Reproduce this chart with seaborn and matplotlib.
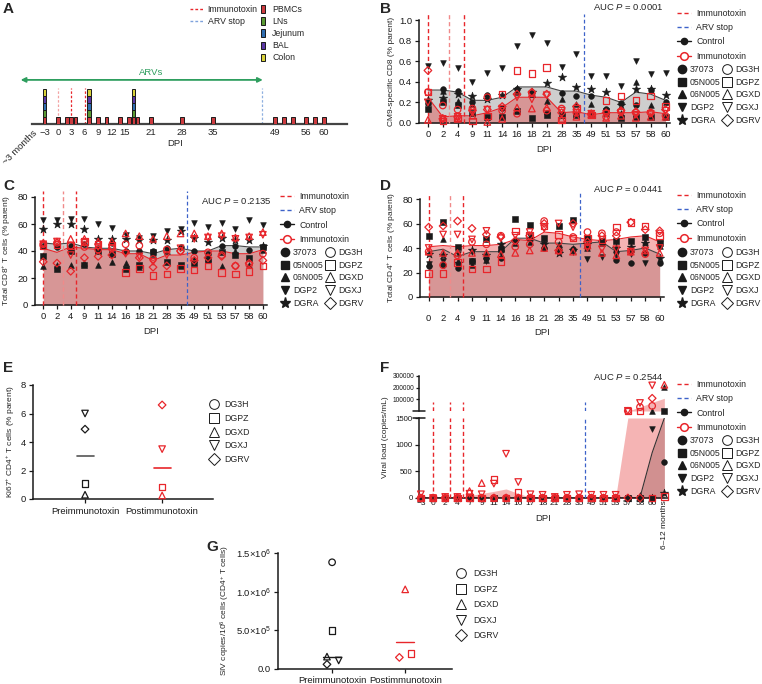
import numpy as np
import matplotlib
matplotlib.use("Agg")
import matplotlib.pyplot as plt
import seaborn as sns
from matplotlib.lines import Line2D
from matplotlib.patches import Patch

sns.set_theme(style="ticks")
plt.rcParams['font.family'] = ['Liberation Sans', 'DejaVu Sans']
plt.rcParams['mathtext.fontset'] = 'custom'
plt.rcParams['mathtext.rm'] = 'Liberation Sans'
plt.rcParams['mathtext.it'] = 'Liberation Sans:italic'
plt.rcParams['mathtext.bf'] = 'Liberation Sans:bold'

# ------------------------------------------------------------------ data
ctrl_ids = ["37073", "05N005", "06N005", "DGP2", "DGRA"]
imm_ids = ["DG3H", "DGPZ", "DGXD", "DGXJ", "DGRV"]
ctrl_markers = ["o", "s", "^", "v", "*"]
imm_markers = ["o", "s", "^", "v", "D"]

# Panel A (sampling schedule)
a_pbmc_days = [-3, 0, 2, 3, 4, 7, 9, 11, 14, 16, 17, 18, 21, 28, 35, 49, 51, 53, 56, 58, 60]
a_tissue_days = [-3, 7, 17]
a_tissues = ["PBMCs", "LNs", "Jejunum", "BAL", "Colon"]
a_tick_days = [-3, 0, 3, 6, 9, 12, 15, 21, 28, 35, 49, 56, 60]
a_immunotoxin_days = [0, 3, 6]
a_arv_stop_day = 46

# time points for B-D
dpi_tp = ["0", "2", "4", "9", "11", "14", "16", "18", "21", "28", "35", "49", "51", "53", "57", "58", "60"]
tp_immunotoxin = [0, 1.45, 2.4]
tp_arv_stop = 10.5

# Panel B: CM9-specific CD8
b_ctrl = {
    "37073": [0.19, 0.33, 0.31, 0.20, 0.27, 0.15, 0.33, 0.30, 0.10, 0.29, 0.26, 0.26, 0.14, 0.19, 0.17, 0.32, 0.20],
    "05N005": [0.14, 0.20, 0.17, 0.10, 0.06, 0.06, 0.12, 0.05, 0.08, 0.08, 0.08, 0.08, 0.12, 0.05, 0.06, 0.06, 0.06],
    "06N005": [0.20, 0.31, 0.21, 0.18, 0.25, 0.08, 0.30, 0.28, 0.21, 0.23, 0.18, 0.18, 0.10, 0.10, 0.40, 0.17, 0.20],
    "DGP2": [0.55, 0.58, 0.53, 0.40, 0.49, 0.53, 0.75, 0.85, 0.78, 0.54, 0.67, 0.46, 0.46, 0.36, 0.60, 0.48, 0.49],
    "DGRA": [0.22, 0.24, 0.28, 0.26, 0.23, 0.27, 0.33, 0.30, 0.39, 0.45, 0.35, 0.33, 0.30, 0.17, 0.33, 0.33, 0.27],
}
b_imm = {
    "DG3H": [0.30, 0.17, 0.13, 0.14, 0.25, 0.12, 0.09, 0.29, 0.12, 0.14, 0.10, 0.08, 0.06, 0.11, 0.10, 0.10, 0.07],
    "DGPZ": [0.30, 0.02, 0.05, 0.02, 0.07, 0.28, 0.51, 0.48, 0.54, 0.03, 0.14, 0.08, 0.22, 0.26, 0.22, 0.26, 0.16],
    "DGXD": [0.03, 0.05, 0.04, 0.07, 0.01, 0.04, 0.15, 0.14, 0.15, 0.04, 0.06, 0.08, 0.05, 0.07, 0.05, 0.06, 0.06],
    "DGXJ": [0.20, 0.04, 0.06, 0.10, 0.13, 0.14, 0.25, 0.23, 0.27, 0.12, 0.10, 0.09, 0.09, 0.10, 0.08, 0.09, 0.12],
    "DGRV": [0.51, 0.04, 0.06, 0.12, 0.13, 0.16, 0.28, 0.30, 0.28, 0.10, 0.16, 0.09, 0.10, 0.12, 0.11, 0.10, 0.13],
}
b_mean_ctrl = [0.32, 0.32, 0.30, 0.22, 0.22, 0.25, 0.35, 0.35, 0.35, 0.31, 0.31, 0.27, 0.25, 0.20, 0.30, 0.28, 0.22]
b_mean_imm = [0.25, 0.06, 0.07, 0.07, 0.10, 0.15, 0.25, 0.25, 0.25, 0.10, 0.11, 0.08, 0.10, 0.10, 0.10, 0.11, 0.09]

# Panel C: total CD8+
c_ctrl = {
    "37073": [44, 43, 44, 45, 42, 46, 40, 40, 40, 42, 43, 40, 38, 44, 44, 41, 43],
    "05N005": [36, 27, 40, 30, 40, 38, 27, 30, 39, 32, 30, 31, 33, 39, 37, 35, 43],
    "06N005": [29, 30, 30, 31, 30, 32, 31, 28, 38, 40, 29, 34, 35, 29, 40, 30, 41],
    "DGP2": [63, 63, 64, 64, 60, 57, 52, 50, 51, 55, 56, 61, 58, 61, 56, 63, 59],
    "DGRA": [56, 60, 60, 56, 49, 49, 49, 48, 48, 48, 55, 50, 47, 50, 48, 48, 44],
}
c_imm = {
    "DG3H": [45, 46, 44, 43, 41, 42, 45, 44, 34, 41, 40, 35, 39, 37, 29, 30, 38],
    "DGPZ": [44, 45, 44, 47, 45, 44, 24, 27, 22, 23, 27, 26, 29, 24, 23, 25, 29],
    "DGXD": [46, 47, 49, 49, 47, 47, 53, 51, 49, 51, 53, 53, 51, 53, 50, 51, 54],
    "DGXJ": [45, 47, 37, 46, 43, 42, 38, 36, 32, 37, 42, 49, 50, 51, 49, 50, 52],
    "DGRV": [32, 31, 25, 35, 36, 37, 39, 35, 28, 29, 40, 33, 35, 36, 29, 31, 33],
}
c_mean_ctrl = [46, 45, 46, 43, 42, 42, 40, 40, 38, 41, 42, 40, 40, 44, 44, 43, 43]
c_mean_imm = [42, 39, 43, 42, 41, 41, 38, 38, 33, 37, 37, 39, 40, 40, 38, 38, 41]

# Panel D: total CD4+
d_ctrl = {
    "37073": [25, 26, 24, 29, 32, 32, 46, 47, 40, 38, 39, 41, 45, 30, 28, 36, 28],
    "05N005": [50, 61, 41, 29, 47, 39, 64, 59, 48, 58, 63, 48, 46, 46, 46, 49, 44],
    "06N005": [28, 47, 29, 26, 30, 40, 44, 45, 42, 43, 40, 40, 44, 39, 39, 45, 42],
    "DGP2": [27, 29, 35, 37, 29, 36, 45, 50, 43, 38, 37, 31, 33, 34, 35, 28, 44],
    "DGRA": [35, 34, 28, 38, 34, 43, 46, 48, 43, 36, 38, 43, 45, 40, 41, 44, 32],
}
d_imm = {
    "DG3H": [37, 26, 34, 45, 43, 50, 41, 43, 62, 45, 49, 53, 52, 53, 37, 35, 52],
    "DGPZ": [19, 19, 28, 23, 23, 29, 54, 50, 58, 51, 48, 48, 47, 57, 61, 58, 50],
    "DGXD": [37, 36, 36, 36, 36, 35, 36, 38, 40, 38, 37, 42, 36, 34, 37, 38, 36],
    "DGXJ": [40, 51, 51, 47, 54, 48, 50, 53, 56, 60, 57, 40, 39, 39, 37, 38, 40],
    "DGRV": [57, 58, 62, 56, 51, 49, 46, 50, 60, 38, 60, 45, 50, 50, 61, 55, 54],
}
d_mean_ctrl = [37, 39, 33, 37, 37, 37, 48, 48, 44, 44, 43, 44, 45, 37, 38, 40, 35]
d_mean_imm = [41, 42, 41, 42, 42, 43, 47, 46, 53, 52, 49, 47, 46, 47, 49, 50, 45]

# Panel E: Ki67+ CD4+
e_groups = ["Preimmunotoxin", "Postimmunotoxin"]
e_pre = {"DG3H": np.nan, "DGPZ": 1.1, "DGXD": 0.3, "DGXJ": 6.0, "DGRV": 4.9}
e_post = {"DG3H": np.nan, "DGPZ": 0.85, "DGXD": 0.25, "DGXJ": 3.5, "DGRV": 6.6}
e_line = [3.05, 2.18]

# Panel F: viral load
f_tp = ["\u22123", "0", "2", "4", "7", "9", "11", "14", "16", "17", "18", "21", "28", "35",
        "49", "51", "53", "57", "58", "60", "6\u201312 months"]
f_immunotoxin = [1, 2.4, 3.5]
f_arv_stop = 13.5
nan = np.nan
f_ctrl = {
    "37073": [0]*20 + [680],
    "05N005": [0]*20 + [2500],
    "06N005": [0]*18 + [60, 2500, 210000],
    "DGP2": [0]*19 + [1300, nan],
    "DGRA": [0]*20 + [100],
}
f_imm = {
    "DG3H": [0]*17 + [3000, 35000, 45000, nan],
    "DGPZ": [0, 0, 0, 0, 10, 0, 350, 0, 110, 0, 0, 0, 0, 0, 0, 0, 0, 3000, 3000, 0, 30],
    "DGXD": [0, 0, 0, 0, 130, 280, 0, 0, 0, 0, 0, 0, 0, 0, 0, 0, 0, nan, nan, nan, 225000],
    "DGXJ": [70, 0, 20, 20, 80, 70, 270, 830, 300, 70, 60, 20, 60, 70, 60, 60, 60, 3000, 70000, 220000, nan],
    "DGRV": [0]*19 + [110000, nan],
}
f_mean_ctrl = [0]*18 + [10, 850, 1650]
f_mean_imm = [15, 0, 5, 5, 45, 85, 125, 170, 85, 15, 12, 5, 12, 15, 12, 12, 12, 1600, 35000, 75000, 110000]

# Panel G: SIV DNA
g_groups = ["Preimmunotoxin", "Postimmunotoxin"]
g_pre = {"DG3H": 1.38e6, "DGPZ": 5.0e5, "DGXD": 1.6e5, "DGXJ": 1.1e5, "DGRV": 6.0e4}
g_post = {"DG3H": nan, "DGPZ": 2.0e5, "DGXD": 1.03e6, "DGXJ": nan, "DGRV": 1.5e5}
g_line = [1.55e5, 3.45e5]

# ------------------------------------------------------------------ style
RED = "#e8262b"
BLUE = "#3d62c9"
GREEN = "#2e9e5e"
TISSUE_COL = ["#cc3b3f", "#5a9a33", "#2f6db0", "#5a38a5", "#d9d23a"]
GREY_FILL = "#8c8c8c"
RED_FILL = "#e63c3c"
FS = 6.8      # tick labels / axis titles
LFS = 6.3     # legends
YFS = 6.0     # y-axis titles

W, H = 762, 684
fig = plt.figure(figsize=(W / 100, H / 100), dpi=100)


def axpx(l, t, r, b):
    return fig.add_axes([l / W, 1 - b / H, (r - l) / W, (b - t) / H])


def style_ax(ax):
    for s in ["top", "right"]:
        ax.spines[s].set_visible(False)
    for s in ["left", "bottom"]:
        ax.spines[s].set_linewidth(1.1)
        ax.spines[s].set_color("k")
    ax.tick_params(labelsize=FS, length=3, width=0.9, colors="k", pad=2)
    ax.set_facecolor("none")


def scatter(ax, x, y, m, filled, color, clip=False):
    x = np.asarray(x, float)
    y = np.asarray(y, float)
    if filled:
        s = 40 if m == "*" else 17
        sns.scatterplot(x=x, y=y, marker=m, s=s, color=color, edgecolor=color,
                        linewidth=0.4, ax=ax, zorder=4, clip_on=clip, legend=False)
    else:
        s = 15 if m == "D" else 22
        sns.scatterplot(x=x, y=y, marker=m, s=s, color=color, facecolor="none",
                        edgecolor=color, linewidth=0.9, ax=ax, zorder=5, clip_on=clip, legend=False)


def legends(x, y, y2):
    h1 = [Line2D([], [], color=RED, ls=(0, (3, 2)), lw=1),
          Line2D([], [], color=BLUE, ls=(0, (3, 2)), lw=1),
          Line2D([], [], color="k", marker="o", ms=4.5, lw=1),
          Line2D([], [], color=RED, marker="o", ms=5.5, mfc="white", mec=RED, mew=1.1, lw=1)]
    fig.legend(h1, ["Immunotoxin", "ARV stop", "Control", "Immunotoxin"],
               loc="upper left", bbox_to_anchor=(x / W, 1 - y / H), frameon=False,
               fontsize=LFS, handlelength=1.6, handletextpad=0.6, labelspacing=0.6,
               borderpad=0, borderaxespad=0)
    h2 = [Line2D([], [], ls="", marker=m, color="k", ms=(8 if m == "*" else 6)) for m in ctrl_markers]
    h2 += [Line2D([], [], ls="", marker=m, mfc="none", mec="k", mew=0.7, ms=(6 if m == "D" else 7))
           for m in imm_markers]
    fig.legend(h2, ctrl_ids + imm_ids, ncol=2, loc="upper left",
               bbox_to_anchor=((x + 1) / W, 1 - y2 / H), frameon=False,
               fontsize=LFS, handlelength=0.9, handletextpad=0.45, labelspacing=0.42,
               columnspacing=0.3, borderpad=0, borderaxespad=0)


def timecourse(ax, dc, di, mc, mi, ylim, yticks, ylabel, yfmt):
    x = np.arange(len(dpi_tp))
    ax.fill_between(x, 0, mc, color=GREY_FILL, alpha=0.42, lw=0, zorder=1)
    ax.fill_between(x, 0, mi, color=RED_FILL, alpha=0.38, lw=0, zorder=1)
    sns.lineplot(x=x, y=mc, color="#444444", lw=0.8, ax=ax, zorder=2)
    sns.lineplot(x=x, y=mi, color=RED, lw=0.8, ax=ax, zorder=2)
    for i, v in enumerate(tp_immunotoxin):
        ax.axvline(v, ymin=0, ymax=1.06, color=("#f08a8a" if i == 1 else RED), ls=(0, (3, 2)),
                   lw=1, clip_on=False, zorder=3)
    ax.axvline(tp_arv_stop, ymin=0, ymax=1.06, color=BLUE, ls=(0, (3, 2)), lw=0.9, clip_on=False, zorder=3)
    for name, m in zip(ctrl_ids, ctrl_markers):
        scatter(ax, x, dc[name], m, True, "k")
    for name, m in zip(imm_ids, imm_markers):
        scatter(ax, x, di[name], m, False, RED)
    ax.set_xlim(-0.6, len(dpi_tp) - 0.7)
    ax.set_ylim(*ylim)
    ax.set_yticks(yticks)
    ax.set_yticklabels([yfmt.format(t) for t in yticks])
    ax.set_xticks(x)
    ax.set_xticklabels(dpi_tp)
    style_ax(ax)
    ax.set_xlabel("DPI", fontsize=FS, labelpad=4)
    ax.set_ylabel(ylabel, fontsize=YFS, labelpad=3)


# ------------------------------------------------------------------ A
axA = axpx(18, 5, 347, 124)
for d in a_pbmc_days:
    if d in a_tissue_days:
        for k, col in enumerate(TISSUE_COL):
            axA.bar(d, 1, bottom=k, width=0.8, color=col, edgecolor="k", lw=0.7, zorder=3)
    else:
        axA.bar(d, 1, width=0.8, color=TISSUE_COL[0], edgecolor="k", lw=0.7, zorder=3)
for i, d in enumerate(a_immunotoxin_days):
    axA.plot([d, d], [0, 5.1], color=("#f3a3a3" if i == 0 else RED), ls=(0, (2, 1.5)), lw=0.9, zorder=2)
axA.plot([a_arv_stop_day] * 2, [0, 5.1], color="#8fb0e0", ls=(0, (2, 1.5)), lw=0.9, zorder=2)
axA.annotate("", xy=(-8.4, 6.3), xytext=(46.2, 6.3),
             arrowprops=dict(arrowstyle="<|-|>", color=GREEN, lw=1.3, mutation_scale=7, shrinkA=0, shrinkB=0))
axA.text(21, 7.3, "ARVs", color=GREEN, fontsize=FS, ha="center", va="center")
axA.set_xlim(-9.0, 65.2)
axA.set_ylim(0, 17)
for s in ["top", "right", "left"]:
    axA.spines[s].set_visible(False)
axA.spines["bottom"].set_bounds(-5.9, 65.2)
axA.spines["bottom"].set_color("#444444")
axA.spines["bottom"].set_linewidth(1.6)
axA.set_yticks([])
axA.set_facecolor("none")
axA.set_xticks([-5.6] + a_tick_days)
axA.set_xticklabels(["~3 months"] + [str(d).replace("-", "\u2212") for d in a_tick_days])
axA.tick_params(axis="x", length=0, labelsize=FS, pad=3)
lab0 = axA.get_xticklabels()[0]
lab0.set_rotation(45)
lab0.set_ha("right")
lab0.set_va("top")
lab0.set_rotation_mode("anchor")
axA.set_xlabel("DPI", fontsize=FS)
axA.xaxis.set_label_coords((175 - 18) / (347 - 18), -0.13)
hA1 = [Line2D([], [], color=RED, ls=(0, (2, 1.5)), lw=1), Line2D([], [], color="#7fa3dc", ls=(0, (2, 1.5)), lw=1)]
fig.legend(hA1, ["Immunotoxin", "ARV stop"], loc="upper left", bbox_to_anchor=(190 / W, 1 - 5 / H),
           frameon=False, fontsize=LFS, handlelength=1.6, handletextpad=0.4, labelspacing=0.35,
           borderpad=0, borderaxespad=0)
hA2 = [Patch(facecolor=c, edgecolor="k", lw=0.7) for c in TISSUE_COL]
fig.legend(hA2, a_tissues, loc="upper left", bbox_to_anchor=(261 / W, 1 - 5 / H),
           frameon=False, fontsize=LFS, handlelength=0.5, handleheight=0.9, handletextpad=0.8,
           labelspacing=0.35, borderpad=0, borderaxespad=0)

# ------------------------------------------------------------------ B
axB = axpx(419, 20, 670, 123)
timecourse(axB, b_ctrl, b_imm, b_mean_ctrl, b_mean_imm, (0, 1.0), [0, 0.2, 0.4, 0.6, 0.8, 1.0],
           "CM9-specific CD8 (% parent)", "{:.1f}")
legends(677, 9, 65)
fig.text(593 / W, 1 - 7 / H, "AUC $P$ = 0.0001", fontsize=FS, va="center", ha="left")

# ------------------------------------------------------------------ C
axC = axpx(35, 197, 267, 305)
timecourse(axC, c_ctrl, c_imm, c_mean_ctrl, c_mean_imm, (0, 80), [0, 20, 40, 60, 80],
           "Total CD8$^{+}$ T cells (% parent)", "{:d}")
legends(280, 192, 248)
fig.text(201 / W, 1 - 201 / H, "AUC $P$ = 0.2135", fontsize=FS, va="center", ha="left")

# ------------------------------------------------------------------ D
axD = axpx(420, 199, 664, 297)
timecourse(axD, d_ctrl, d_imm, d_mean_ctrl, d_mean_imm, (0, 80), [0, 20, 40, 60, 80],
           "Total CD4$^{+}$ T cells (% parent)", "{:d}")
axD.tick_params(axis="x", pad=9)
legends(677, 191, 248)
fig.text(593 / W, 1 - 188 / H, "AUC $P$ = 0.0441", fontsize=FS, va="center", ha="left")

# ------------------------------------------------------------------ E
axE = axpx(33, 385, 213, 499)
for gi, (grp, col) in enumerate(zip([e_pre, e_post], ["k", RED])):
    for name, m in zip(imm_ids, imm_markers):
        scatter(axE, [gi], [grp[name]], m, False, col)
    axE.plot([gi - 0.11, gi + 0.11], [e_line[gi]] * 2, color=("#555555" if gi == 0 else RED), lw=1.2, zorder=3)
axE.set_xlim(-0.675, 1.66)
axE.set_ylim(0, 8)
axE.set_yticks([0, 2, 4, 6, 8])
axE.set_xticks([0, 1])
axE.set_xticklabels(e_groups)
style_ax(axE)
axE.tick_params(axis="x", pad=3)
axE.set_ylabel("Ki67$^{+}$ CD4$^{+}$ T cells (% parent)", fontsize=YFS, labelpad=3)
hE = [Line2D([], [], ls="", marker=m, mfc="none", mec="k", mew=0.7, ms=(6 if m == "D" else 7))
      for m in imm_markers]
fig.legend(hE, imm_ids, loc="upper left", bbox_to_anchor=(210 / W, 1 - 400 / H), frameon=False,
           fontsize=LFS, handlelength=0.9, handletextpad=0.7, labelspacing=0.55, borderpad=0, borderaxespad=0)

# ------------------------------------------------------------------ F
axFb = axpx(419, 418, 668, 498)
axFt = axpx(419, 376, 668, 411)
xf = np.arange(len(f_tp))
mci = np.asarray(f_mean_imm, float)
mcc = np.asarray(f_mean_ctrl, float)
axFb.fill_between(xf, 0, np.minimum(mcc, 1500), color=GREY_FILL, alpha=0.5, lw=0, zorder=1)
axFb.fill_between(xf, 0, np.minimum(mci, 1500), color=RED_FILL, alpha=0.38, lw=0, zorder=1)
axFt.fill_between(xf, 1500, np.maximum(mci, 1500), color=RED_FILL, alpha=0.38, lw=0, zorder=1)
sns.lineplot(x=xf, y=np.minimum(mcc, 1500), color="#333333", lw=0.8, ax=axFb, zorder=2)
for v in f_immunotoxin:
    axFb.axvline(v, color=RED, ls=(0, (3, 2)), lw=1, zorder=3)
    axFt.axvline(v, ymax=0.25, color=RED, ls=(0, (3, 2)), lw=1, zorder=3)
axFb.axvline(f_arv_stop, color=BLUE, ls=(0, (3, 2)), lw=0.9, zorder=3)
axFt.axvline(f_arv_stop, ymax=0.25, color=BLUE, ls=(0, (3, 2)), lw=0.9, zorder=3)
for ids, mk, dd, filled, col in [(ctrl_ids, ctrl_markers, f_ctrl, True, "k"), (imm_ids, imm_markers, f_imm, False, RED)]:
    for name, m in zip(ids, mk):
        v = np.asarray(dd[name], float)
        lo = np.where(v <= 1500, v, np.nan)
        hi = np.where(v > 1500, v, np.nan)
        scatter(axFb, xf, lo, m, filled, col)
        scatter(axFt, xf, hi, m, filled, col)
for ax in (axFb, axFt):
    ax.set_xlim(-0.15, len(f_tp) - 0.7)
axFb.set_ylim(0, 1500)
axFt.set_ylim(1500, 300000)
axFb.set_yticks([0, 500, 1000, 1500])
axFt.set_yticks([100000, 200000, 300000])
axFt.set_yticklabels(["100000", "200000", "300000"])
axFb.set_xticks(xf)
axFb.set_xticklabels(f_tp)
style_ax(axFb)
style_ax(axFt)
axFt.spines["bottom"].set_visible(False)
axFt.set_xticks([])
axFt.tick_params(axis="y", labelsize=4.8, length=2.5, pad=1)
axFb.tick_params(axis="y", labelsize=5.6, pad=1.5)
axFb.tick_params(axis="x", pad=1.5, length=0, labelsize=6)
labF = axFb.get_xticklabels()[-1]
labF.set_rotation(90)
labF.set_va("top")
axFb.plot([-0.025, 0.025], [1, 1], transform=axFb.transAxes, color="k", lw=1.1, clip_on=False)
axFt.plot([-0.025, 0.025], [0, 0], transform=axFt.transAxes, color="k", lw=1.1, clip_on=False)
axFb.set_xlabel("DPI", fontsize=FS)
axFb.xaxis.set_label_coords(0.5, -0.2)
fig.text(386 / W, 1 - 437 / H, "Viral load (copies/mL)", fontsize=YFS, rotation=90, va="center", ha="center")
legends(677, 380, 436)
fig.text(593 / W, 1 - 377 / H, "AUC $P$ = 0.2544", fontsize=FS, va="center", ha="left")

# ------------------------------------------------------------------ G
axG = axpx(278, 553, 452, 669)
g_off = {"DG3H": 0.0, "DGPZ": 0.0, "DGXD": -0.07, "DGXJ": 0.09, "DGRV": -0.07}
g_off_post = {"DG3H": 0.0, "DGPZ": 0.08, "DGXD": 0.0, "DGXJ": 0.0, "DGRV": -0.08}
for gi, (grp, col, off) in enumerate(zip([g_pre, g_post], ["k", RED], [g_off, g_off_post])):
    for name, m in zip(imm_ids, imm_markers):
        scatter(axG, [gi + off[name]], [grp[name]], m, False, col)
    axG.plot([gi - 0.12, gi + 0.12], [g_line[gi]] * 2, color=("k" if gi == 0 else RED), lw=1.0, zorder=3)
axG.set_xlim(-0.74, 1.64)
axG.set_ylim(0, 1.5e6)
axG.set_yticks([0, 5e5, 1e6, 1.5e6])
axG.set_yticklabels(["0.0", "5.0\u00d710$^{5}$", "1.0\u00d710$^{6}$", "1.5\u00d710$^{6}$"])
axG.set_xticks([0, 1])
axG.set_xticklabels(g_groups)
style_ax(axG)
axG.tick_params(axis="x", pad=2)
axG.set_ylabel("SIV copies/10$^{6}$ cells (CD4$^{+}$ T cells)", fontsize=YFS, labelpad=3)
fig.legend(hE, imm_ids, loc="upper left", bbox_to_anchor=(457 / W, 1 - 569 / H), frameon=False,
           fontsize=LFS, handlelength=0.9, handletextpad=0.9, labelspacing=0.75, borderpad=0, borderaxespad=0)

# ------------------------------------------------------------------ panel letters
for lt, (px, py) in {"A": (3, 2), "B": (380, 2), "C": (3, 179), "D": (380, 179),
                     "E": (3, 361), "F": (380, 361), "G": (206, 540)}.items():
    fig.text(px / W, 1 - py / H, lt, fontsize=11, fontweight="bold", va="top", ha="left")

fig.savefig("out.png", dpi=100)
